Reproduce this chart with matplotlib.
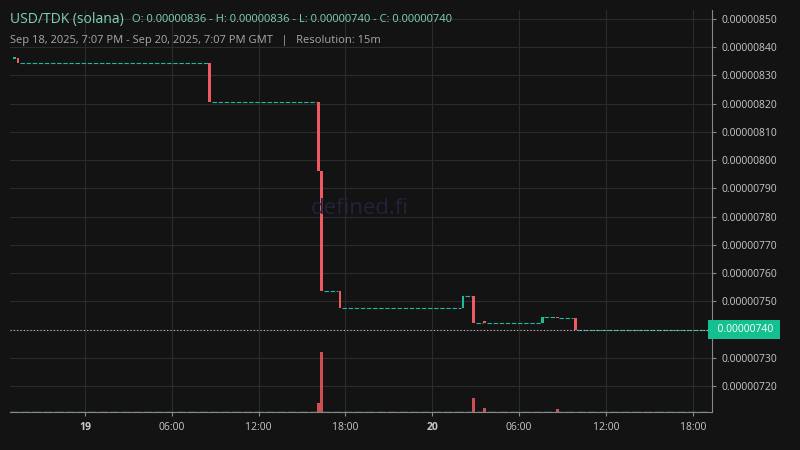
import matplotlib
matplotlib.use("Agg")
import matplotlib.pyplot as plt

# hours since Sep 18 00:00 GMT; prices in 1e-6 units
c_hour = [19.0, 19.25, 32.5, 40.0, 40.25, 41.5, 50.0, 50.75, 51.5, 55.5, 56.5, 57.75]
c_open = [8.360, 8.362, 8.345, 8.205, 7.960, 7.535, 7.475, 7.520, 7.430, 7.425, 7.445, 7.440]
c_close= [8.360, 8.345, 8.205, 7.960, 7.535, 7.475, 7.520, 7.425, 7.425, 7.445, 7.440, 7.400]
v_hour = [40.0, 40.25, 50.75, 51.5, 56.5]
v_val  = [3, 21, 5, 1.5, 1]
end_hour = 67.1
y_ticks = [7.20, 7.30, 7.40, 7.50, 7.60, 7.70, 7.80, 7.90, 8.00, 8.10, 8.20, 8.30, 8.40, 8.50]
x_ticks = [24, 30, 36, 42, 48, 54, 60, 66]
x_labels = ["19", "06:00", "12:00", "18:00", "20", "06:00", "12:00", "18:00"]
last_price = 7.40

BG = "#131313"; GRID = "#2b2b2b"; UP = "#22b89a"; DN = "#ef5a60"; TXT = "#c8c8c8"
fig = plt.figure(figsize=(8, 4.5), dpi=100, facecolor=BG)
ax = fig.add_axes([10/800, 38/450, 702/800, 402/450], facecolor=BG)
ax.set_xlim(18.82, 67.33)
ax.set_ylim(7.108, 8.532)
for t in y_ticks:
    ax.axhline(t, color=GRID, lw=0.8, zorder=0)
for t in x_ticks:
    ax.axvline(t, color=GRID, lw=0.8, zorder=0)
w = 0.2
for i in range(len(c_hour)):
    o, c = c_open[i], c_close[i]
    col = UP if c >= o else DN
    h = max(abs(c - o), 0.004)
    ax.bar(c_hour[i] + 0.125, h, width=w, bottom=min(o, c), color=col, zorder=3)
    nxt = c_hour[i + 1] if i + 1 < len(c_hour) else end_hour
    ax.plot([c_hour[i] + 0.25, nxt], [c, c], color=UP, lw=0.8, ls=(0, (4, 1.5)), zorder=2)
ax.axhline(last_price, color="#bbbbbb", lw=0.8, ls=(0, (1, 2)), zorder=4)

vax = ax.twinx()
vax.set_ylim(0, 21 * 402 / 60)
vax.bar([h + 0.125 for h in v_hour], v_val, width=w, color=DN, alpha=0.85)
vax.plot([18.82, end_hour], [0.15, 0.15], color=UP, lw=1, ls=(0, (6, 2)))
vax.set_yticks([])

for a in (ax, vax):
    for s in a.spines.values():
        s.set_visible(False)
ax.spines["right"].set_visible(True); ax.spines["right"].set_color("#888888")
ax.spines["bottom"].set_visible(True); ax.spines["bottom"].set_color("#888888")
ax.yaxis.tick_right()
ax.set_yticks(y_ticks)
ax.set_yticklabels(["" if abs(t - last_price) < 1e-9 else f"{t/1e6:.8f}" for t in y_ticks],
                   color=TXT, fontsize=7.5, fontfamily="Open Sans")
ax.set_xticks(x_ticks)
ax.set_xticklabels(x_labels, color=TXT, fontsize=7.5, fontfamily="Open Sans")
for lbl, t in zip(ax.get_xticklabels(), x_labels):
    if ":" not in t:
        lbl.set_fontweight("bold")
ax.tick_params(length=3, color="#888888", pad=4)
ax.text(1.0, last_price, f"  {last_price/1e6:.8f} ", transform=ax.get_yaxis_transform(),
        ha="left", va="center", fontsize=7.5, color="white", fontfamily="Open Sans",
        bbox=dict(boxstyle="square,pad=0.35", fc="#14c08f", ec="none"), zorder=10, clip_on=False)
fig.text(10/800, 1 - 20/450, "USD/TDK (solana)", color="#7fd3b5", fontsize=10, fontfamily="Open Sans", va="center")
fig.text(132/800, 1 - 20/450, "O: 0.00000836 - H: 0.00000836 - L: 0.00000740 - C: 0.00000740",
         color="#7fd3b5", fontsize=8, fontfamily="Open Sans", va="center")
fig.text(10/800, 1 - 41/450, "Sep 18, 2025, 7:07 PM - Sep 20, 2025, 7:07 PM GMT   |   Resolution: 15m",
         color="#a8a8a8", fontsize=8, fontfamily="Open Sans", va="center")
fig.text(360/800, 1 - 208/450, "defined.fi", color="#22223a", fontsize=16, fontfamily="Open Sans",
         ha="center", va="center")
fig.savefig("out.png", dpi=100, facecolor=BG)
